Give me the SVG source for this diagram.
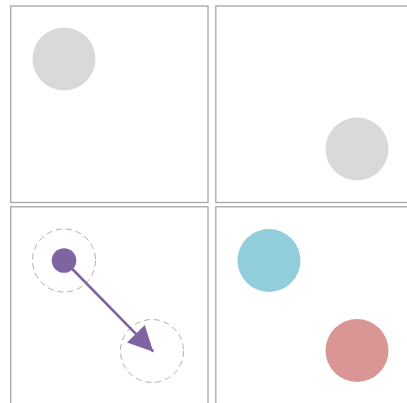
<svg xmlns="http://www.w3.org/2000/svg" width="407" height="403" viewBox="0 0 407 403">
  <style>
    .panel { fill: #ffffff; stroke: #a6a6a6; stroke-width: 1.3; }
    .gray { fill: #d9d9d9; }
    .ring { fill: none; stroke: #b0b0b0; stroke-width: 1; stroke-dasharray: 6 4; }
    .conn { stroke: #8064a2; stroke-width: 2.6; fill: none; }
  </style>
  <defs>
    <marker id="arrow" viewBox="0 0 10 10" refX="10" refY="5" markerUnits="userSpaceOnUse" markerWidth="25" markerHeight="25" orient="auto">
      <path d="M0,0 L10,5 L0,10 Z" fill="#8064a2"/>
    </marker>
  </defs>
  <rect width="407" height="403" fill="#ffffff"/>
  <g id="panel-top-left">
    <rect class="panel" x="10.7" y="6" width="197.3" height="196.5"/>
    <circle class="gray" cx="64" cy="59" r="31.5"/>
  </g>
  <g id="panel-top-right">
    <rect class="panel" x="215.8" y="6" width="197" height="196.5"/>
    <circle class="gray" cx="357" cy="149" r="31.5"/>
  </g>
  <g id="panel-bottom-left">
    <rect class="panel" x="10.7" y="206.8" width="197.3" height="200"/>
    <circle class="ring" cx="64" cy="260.5" r="31.5"/>
    <circle class="ring" cx="152" cy="351" r="31.5"/>
    <circle id="source" cx="64" cy="260.5" r="12.3" fill="#8064a2"/>
  </g>
  <g id="panel-bottom-right">
    <rect class="panel" x="215.8" y="206.8" width="197" height="200"/>
    <circle id="blue" cx="269" cy="260.5" r="31.5" fill="#92cddc"/>
    <circle id="red" cx="357" cy="350.5" r="31.5" fill="#d99694"/>
  </g>
  <g id="connectors">
    <line class="conn" x1="64" y1="260.5" x2="153.3" y2="351.7" marker-end="url(#arrow)"/>
  </g>
</svg>
